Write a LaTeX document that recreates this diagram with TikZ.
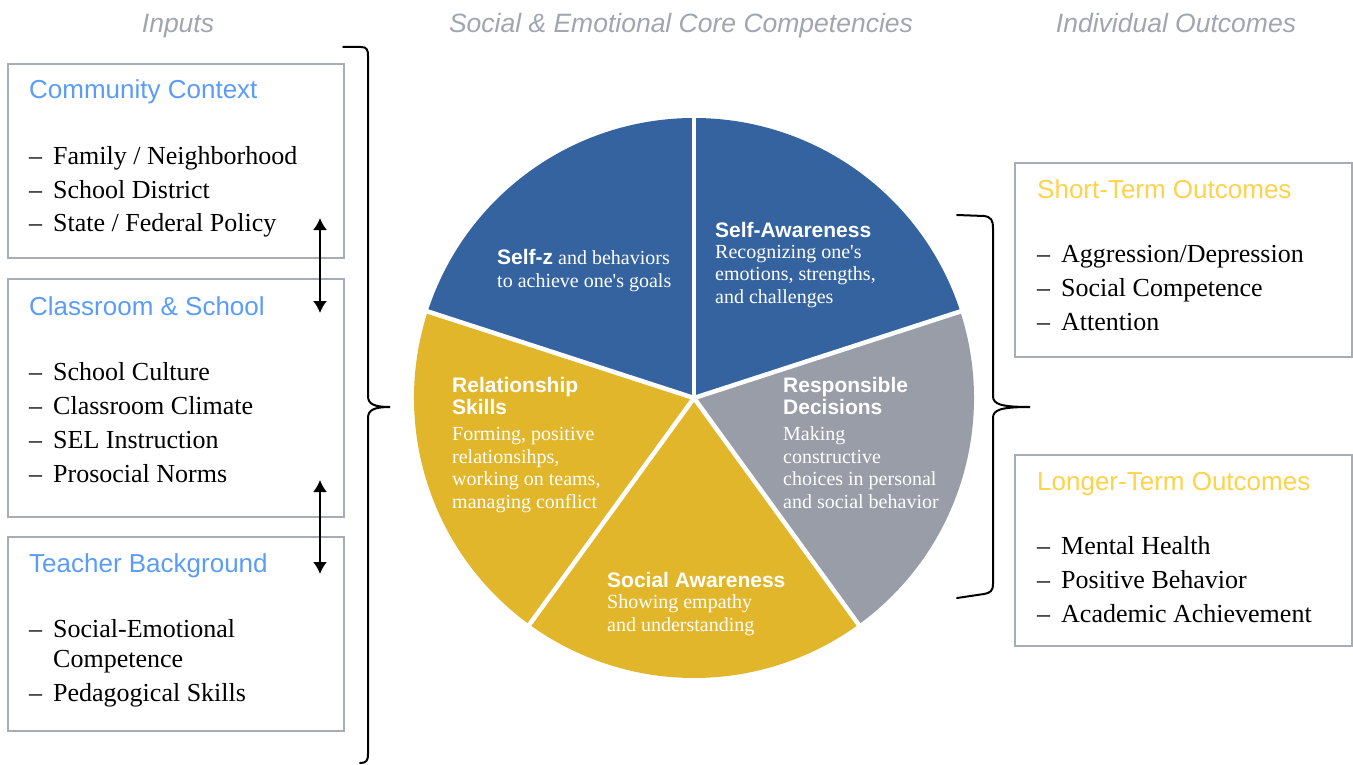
\documentclass[tikz,border=0pt]{standalone}
\usepackage{fontspec}
\setmainfont{Liberation Serif}
\setsansfont{Liberation Sans}
\usetikzlibrary{arrows.meta}
\definecolor{selblue}{HTML}{3463A0}
\definecolor{selgold}{HTML}{E2B62A}
\definecolor{selgray}{HTML}{989DA8}
\definecolor{inblue}{HTML}{5A9CF6}
\definecolor{outgold}{HTML}{FFD24A}
\definecolor{capgray}{HTML}{A0A5B0}
\definecolor{framegray}{HTML}{A7ACB6}
\newcommand\itm{\makebox[24pt][l]{--}}

\begin{document}
\begin{tikzpicture}[x=1pt,y=-1pt,
  frame/.style={draw=framegray,line width=2pt},
  colhead/.style={anchor=base,inner sep=0pt,text=capgray,font=\sffamily\itshape\fontsize{26.5}{30}\selectfont},
  inhead/.style={anchor=base west,inner sep=0pt,text=inblue,font=\sffamily\fontsize{26}{30}\selectfont},
  outhead/.style={inhead,text=outgold},
  items/.style={anchor=base west,inner sep=0pt,align=left,font=\fontsize{26}{34}\selectfont},
  segtitle/.style={anchor=base west,inner sep=0pt,align=left,text=white,font=\sffamily\bfseries\fontsize{21}{21.5}\selectfont},
  segtext/.style={anchor=base west,inner sep=0pt,align=left,text=white,font=\fontsize{20}{22.5}\selectfont},
  brace/.style={line width=2pt,line cap=round},
  link/.style={{Latex[length=12pt,width=14pt]}-{Latex[length=12pt,width=14pt]},line width=2pt}]

\useasboundingbox (0,0) rectangle (1353,765);

\node[colhead] (incap) at (178,33) {Inputs};
\node[colhead] (corecap) at (681,33) {Social \& Emotional Core Competencies};
\node[colhead] (outcap) at (1176,33) {Individual Outcomes};

\draw[frame] (8,64) rectangle (344,258);
\draw[frame] (8,279) rectangle (344,517);
\draw[frame] (8,537) rectangle (344,731);
\node[inhead] (commhead) at (29,99) {Community Context};
\node[items] (commlist) at (29,232) {\itm Family / Neighborhood\\\itm School District\\\itm State / Federal Policy};
\node[inhead] (classhead) at (29,315) {Classroom \& School};
\node[items] (classlist) at (29,482) {\itm School Culture\\\itm Classroom Climate\\\itm SEL Instruction\\\itm Prosocial Norms};
\node[inhead] (teachhead) at (29,572) {Teacher Background};
\node[items] (teachlist) at (29,701) {\itm Social-Emotional\\[-4pt]\hspace*{24pt}Competence\\\itm Pedagogical Skills};

\coordinate (up1) at (320,218);
\coordinate (dn1) at (320,313);
\coordinate (up2) at (320,480);
\coordinate (dn2) at (320,574);
\draw[link] (up1) -- (dn1);
\draw[link] (up2) -- (dn2);

\draw[brace] (343,47) -- (361,47) .. controls (367,47) and (368,50) .. (368,56) -- (368,396)
  .. controls (368,404) and (374,407) .. (390,407) .. controls (374,407) and (368,410) .. (368,418)
  -- (368,754) .. controls (368,761) and (366,763) .. (360,763);

\coordinate (core) at (694,398);
\foreach \a/\c in {-18/selblue,-90/selblue,-162/selgold,-234/selgold,-306/selgray}
  \fill[\c] (core) -- ++(\a:280) arc[start angle=\a,end angle=\a-72,radius=280] -- cycle;
\foreach \a in {-18,-90,-162,-234,-306}
  \draw[white,line width=4.5pt] (core) -- ++(\a:284);

\node[segtext] (mgmt) at (497,287) {{\sffamily\bfseries\fontsize{21}{22.5}\selectfont Self-z} and behaviors\\to achieve one\textquotesingle s goals};
\node[segtitle] (awaretitle) at (715,237) {Self-Awareness};
\node[segtext] (awaretext) at (715,303) {Recognizing one\textquotesingle s\\emotions, strengths,\\and challenges};
\node[segtitle] (reltitle) at (452,414) {Relationship\\Skills};
\node[segtext] (reltext) at (452,508) {Forming, positive\\relationsihps,\\working on teams,\\managing conflict};
\node[segtitle] (resptitle) at (783,414) {Responsible\\Decisions};
\node[segtext] (resptext) at (783,508) {Making\\constructive\\choices in personal\\and social behavior};
\node[segtitle] (soctitle) at (607,587) {Social Awareness};
\node[segtext] (soctext) at (607,631) {Showing empathy\\and understanding};

\draw[brace] (957,215) -- (984,216) .. controls (991,217) and (993,220) .. (993,228) -- (993,396)
  .. controls (993,404) and (1000,407) .. (1030,407) .. controls (1000,407) and (993,410) .. (993,418)
  -- (993,584) .. controls (993,591) and (990,593) .. (984,594) -- (957,598);

\draw[frame] (1015,163) rectangle (1352,357);
\draw[frame] (1015,455) rectangle (1352,646);
\node[outhead] (shorthead) at (1037,198) {Short-Term Outcomes};
\node[items] (shortlist) at (1037,330) {\itm Aggression/Depression\\\itm Social Competence\\\itm Attention};
\node[outhead] (longhead) at (1037,490) {Longer-Term Outcomes};
\node[items] (longlist) at (1037,622) {\itm Mental Health\\\itm Positive Behavior\\\itm Academic Achievement};
\end{tikzpicture}
\end{document}
